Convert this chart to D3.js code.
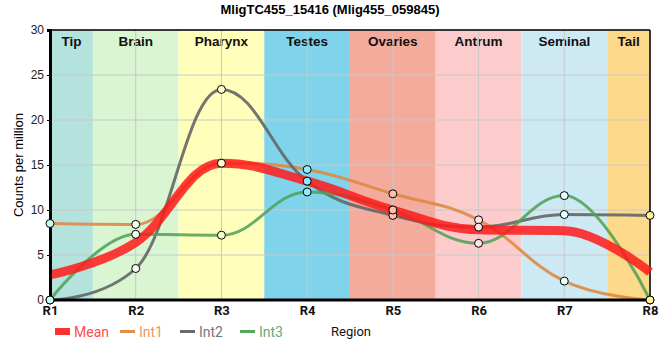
<!DOCTYPE html>
<html><head><meta charset="utf-8">
<script src="https://cdn.jsdelivr.net/npm/d3@7"></script>
<style>body{margin:0;background:#fff}svg{display:block}</style>
</head><body>
<svg id="c" width="660" height="360"></svg>
<script>
const regions = ["R1","R2","R3","R4","R5","R6","R7","R8"];
const bandNames = ["Tip","Brain","Pharynx","Testes","Ovaries","Antrum","Seminal","Tail"];
const bandColors = ["#b4e3de","#d9f5d2","#ffffbb","#7fd4eb","#f4ab9c","#fccbcb","#cdeaf4","#fdd98b"];
const meanVals = [2.8, 6.4, 15.2, 13.2, 10.0, 7.8, 7.7, 3.1];
const int1Vals = [8.5, 8.4, 15.2, 14.5, 11.8, 8.9, 2.1, 0];
const int2Vals = [0, 3.5, 23.4, 13.2, 9.4, 8.1, 9.5, 9.4];
const int3Vals = [0, 7.3, 7.2, 12.0, 10.0, 6.3, 11.6, 0];
const yTicks = [0,5,10,15,20,25,30];

// custom d3 curve: spline with control points at 0.4 of the gap, clamped to avoid false extremes
function SplineCurve(context){ this._context = context; }
SplineCurve.prototype = {
  areaStart(){}, areaEnd(){},
  lineStart(){ this._pts = []; },
  point(x,y){ this._pts.push([+x,+y]); },
  lineEnd(){
    const p = this._pts, n = p.length, c = this._context;
    if(!n) return;
    const sm = 1.5, den = sm + 1;
    const lc = [], rc = [];
    for(let i=0;i<n;i++){
      const [px,py] = p[i];
      if(i===0 || i===n-1){ lc[i]=[px,py]; rc[i]=[px,py]; continue; }
      const [lx,ly] = p[i-1], [nx,ny] = p[i+1];
      let lcx=(sm*px+lx)/den, lcy=(sm*py+ly)/den, rcx=(sm*px+nx)/den, rcy=(sm*py+ny)/den;
      let corr = 0;
      if(rcx!==lcx) corr = ((rcy-lcy)*(rcx-px))/(rcx-lcx) + py - rcy;
      lcy+=corr; rcy+=corr;
      if(lcy>ly && lcy>py){ lcy=Math.max(ly,py); rcy=2*py-lcy; }
      else if(lcy<ly && lcy<py){ lcy=Math.min(ly,py); rcy=2*py-lcy; }
      if(rcy>ny && rcy>py){ rcy=Math.max(ny,py); lcy=2*py-rcy; }
      else if(rcy<ny && rcy<py){ rcy=Math.min(ny,py); lcy=2*py-rcy; }
      lc[i]=[lcx,lcy]; rc[i]=[rcx,rcy];
    }
    c.moveTo(p[0][0],p[0][1]);
    for(let i=1;i<n;i++) c.bezierCurveTo(rc[i-1][0],rc[i-1][1],lc[i][0],lc[i][1],p[i][0],p[i][1]);
  }
};
const curveSpline = ctx => new SplineCurve(ctx);

const svg = d3.select("#c");
const L=50, R=650, T=30, B=300;
const x = d3.scalePoint().domain(regions).range([L,R]);
const y = d3.scaleLinear().domain([0,30]).range([B,T]);
const step = x.step();

// bands
const g = svg.append("g");
bandNames.forEach((n,i)=>{
  const cx = x(regions[i]);
  const x0 = Math.max(L, cx-step/2), x1 = Math.min(R, cx+step/2);
  g.append("rect").attr("x",x0).attr("y",T).attr("width",x1-x0).attr("height",B-T).attr("fill",bandColors[i]);
  g.append("text").attr("x",(x0+x1)/2).attr("y",T+16).attr("text-anchor","middle")
    .attr("font-family","Liberation Sans, Arial, sans-serif").attr("font-weight","bold").attr("font-size",13.5).attr("fill","#111").text(n);
});
// grid
yTicks.forEach(t=>{ g.append("line").attr("x1",L).attr("x2",R).attr("y1",y(t)).attr("y2",y(t)).attr("stroke","#c8c8c8").attr("stroke-width",1);});
regions.forEach(r=>{ g.append("line").attr("x1",x(r)).attr("x2",x(r)).attr("y1",T).attr("y2",B).attr("stroke","#c8c8c8").attr("stroke-width",1);});
// frame
svg.append("line").attr("x1",L).attr("x2",R).attr("y1",T).attr("y2",T).attr("stroke","#000").attr("stroke-width",1.5);
svg.append("line").attr("x1",R).attr("x2",R).attr("y1",T).attr("y2",B).attr("stroke","#000").attr("stroke-width",1.5);

const line = d3.line().x((d,i)=>x(regions[i])).y(d=>y(d)).curve(curveSpline);
const series = [
  {name:"Int1", vals:int1Vals, color:"#dd8a45", w:3, op:0.9},
  {name:"Int2", vals:int2Vals, color:"#666666", w:3, op:0.9},
  {name:"Int3", vals:int3Vals, color:"#4fa055", w:3, op:0.85},
];
series.forEach(s=>{
  svg.append("path").attr("d",line(s.vals)).attr("fill","none").attr("stroke",s.color).attr("stroke-width",s.w).attr("stroke-opacity",s.op);
});
svg.append("path").attr("d",line(meanVals)).attr("fill","none").attr("stroke","#ff1a1a").attr("stroke-width",9).attr("stroke-opacity",0.85);

// axes
const yAxis = d3.axisLeft(y).tickValues(yTicks).tickSize(3);
const ya = svg.append("g").attr("transform",`translate(${L},0)`).call(yAxis);
ya.select(".domain").attr("stroke","#000").attr("stroke-width",3);
ya.selectAll("text").attr("font-family","Liberation Sans, Arial, sans-serif").attr("font-size",12).attr("fill","#222");
const xAxis = d3.axisBottom(x).tickSize(0).tickPadding(6);
const xa = svg.append("g").attr("transform",`translate(0,${B})`).call(xAxis);
xa.select(".domain").attr("stroke","#000").attr("stroke-width",3).attr("d",`M${L-1},0H${R}`);
xa.selectAll("text").attr("font-family","Roboto, sans-serif").attr("font-weight","bold").attr("font-size",13).attr("fill","#111");

// points (individual series only), filled with the band colour
series.forEach(s=>{
  svg.append("g").selectAll("circle").data(s.vals).join("circle")
    .attr("cx",(d,i)=>x(regions[i])).attr("cy",d=>y(d)).attr("r",4)
    .attr("fill",(d,i)=>d3.color(bandColors[i]).brighter(0.3)).attr("stroke","#000").attr("stroke-width",1);
});

// title
svg.append("text").attr("x",330).attr("y",14).attr("text-anchor","middle")
  .attr("font-family","Liberation Sans, Arial, sans-serif").attr("font-weight","bold").attr("font-size",13).attr("fill","#000")
  .text("MligTC455_15416 (Mlig455_059845)");
// y label
svg.append("text").attr("transform","translate(23,165) rotate(-90)").attr("text-anchor","middle")
  .attr("font-family","Liberation Sans, Arial, sans-serif").attr("font-size",13).attr("fill","#000").text("Counts per million");
// x label
svg.append("text").attr("x",351).attr("y",336).attr("text-anchor","middle")
  .attr("font-family","Roboto, sans-serif").attr("font-size",13).attr("fill","#111").text("Region");

// legend
const legend = [
  {name:"Mean", color:"#ff3030", text:"#ff4d4d", x:55, thick:true},
  {name:"Int1", color:"#e0904a", text:"#e8995a", x:120},
  {name:"Int2", color:"#6a6a6a", text:"#777777", x:180},
  {name:"Int3", color:"#55a860", text:"#66aa77", x:240},
];
legend.forEach(l=>{
  if(l.thick) svg.append("rect").attr("x",l.x).attr("y",328).attr("width",15).attr("height",7).attr("fill",l.color);
  else svg.append("line").attr("x1",l.x).attr("x2",l.x+15).attr("y1",331.5).attr("y2",331.5).attr("stroke",l.color).attr("stroke-width",3);
  svg.append("text").attr("x",l.x+19).attr("y",336.5).attr("font-family","Roboto, sans-serif").attr("font-size",14).attr("fill",l.text).text(l.name);
});
</script>
</body></html>
